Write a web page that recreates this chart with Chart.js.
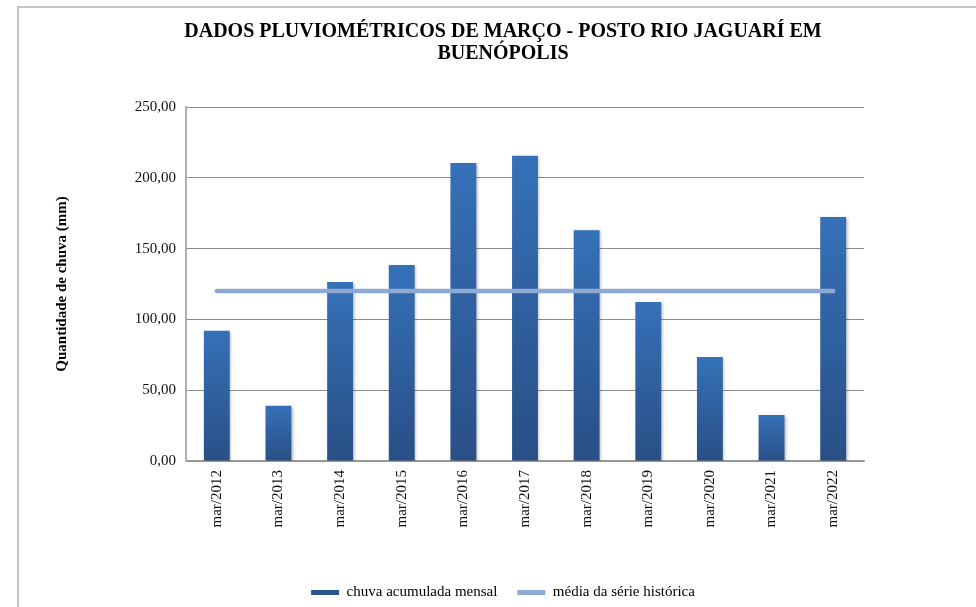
<!DOCTYPE html>
<html>
<head>
<meta charset="utf-8">
<script src="https://cdn.jsdelivr.net/npm/chart.js@4.4.0/dist/chart.umd.min.js"></script>
<style>
  html, body { margin: 0; padding: 0; background: #fff; overflow: hidden; }
  #wrap { position: relative; width: 976px; height: 607px; }
  #frame { position: absolute; left: 17px; top: 6px; width: 990px; height: 640px; border-left: 2px solid #c4c4c4; border-top: 2px solid #c4c4c4; pointer-events: none; }
</style>
</head>
<body>
<div id="wrap">
  <canvas id="my-chart" width="976" height="607"></canvas>
  <div id="frame"></div>
</div>
<script>
'use strict'

// data (mm)
let categories = ['mar/2012', 'mar/2013', 'mar/2014', 'mar/2015', 'mar/2016', 'mar/2017',
  'mar/2018', 'mar/2019', 'mar/2020', 'mar/2021', 'mar/2022'];
let chuvaMensal = [92, 39, 126.5, 138.5, 210.5, 215.5, 163, 112.3, 73.5, 32.5, 172.3];
let mediaSerie = [120, 120, 120, 120, 120, 120, 120, 120, 120, 120, 120];
let yTicks = [0, 50, 100, 150, 200, 250];

let chartTitle = ['DADOS PLUVIOMÉTRICOS DE MARÇO - POSTO RIO JAGUARÍ EM', 'BUENÓPOLIS'];
let yTitle = 'Quantidade de chuva (mm)';
let barLabel = 'chuva acumulada mensal';
let lineLabel = 'média da série histórica';

let barTop = '#3571b8';
let barBottom = '#294f86';
let barLegend = '#2c5690';
let lineColor = '#8eaad3';

Chart.defaults.font.family = "'Liberation Serif', 'Times New Roman', serif";
Chart.defaults.color = '#111';

let chartContext = document.getElementById('my-chart').getContext('2d');

function barGradient(context) {
  let chart = context.chart;
  if (!chart.chartArea || context.raw === undefined) {
    return barLegend;
  }
  let yScale = chart.scales.y;
  let top = yScale.getPixelForValue(context.raw);
  let bottom = yScale.getPixelForValue(0);
  let g = chart.ctx.createLinearGradient(0, top, 0, bottom);
  g.addColorStop(0, barTop);
  g.addColorStop(1, barBottom);
  return g;
}

// soft shadow behind the bars, like the spreadsheet one
let barShadow = {
  id: 'barShadow',
  beforeDatasetDraw(chart, args) {
    if (args.meta.type !== 'bar') return;
    let ctx = chart.ctx;
    ctx.save();
    ctx.shadowColor = 'rgba(0, 0, 0, 0.28)';
    ctx.shadowBlur = 3;
    ctx.shadowOffsetX = 1.5;
    ctx.shadowOffsetY = 1;
  },
  afterDatasetDraw(chart, args) {
    if (args.meta.type !== 'bar') return;
    chart.ctx.restore();
  }
};

let chartConfig = {
  type: 'bar',
  data: {
    labels: categories,
    datasets: [{
      type: 'bar',
      label: barLabel,
      data: chuvaMensal,
      backgroundColor: barGradient,
      barPercentage: 0.42,
      categoryPercentage: 1,
      order: 1,
    }, {
      type: 'line',
      label: lineLabel,
      data: mediaSerie,
      borderColor: lineColor,
      borderWidth: 4.5,
      borderCapStyle: 'round',
      pointRadius: 0,
      pointHoverRadius: 0,
      fill: false,
      order: 0,
    }],
  },
  options: {
    responsive: false,
    animation: false,
    layout: { padding: { left: 30, right: 0, top: 0, bottom: -3 } },
    plugins: {
      tooltip: { enabled: false },
      title: {
        display: true,
        text: chartTitle,
        color: '#000',
        font: { size: 20, weight: 'bold', lineHeight: 1.1 },
        padding: { top: 21, bottom: 42 },
      },
      legend: {
        position: 'bottom',
        labels: {
          boxWidth: 28,
          boxHeight: 5,
          padding: 20,
          color: '#111',
          font: { size: 15 },
          generateLabels: function (chart) {
            return [{
              text: barLabel, fillStyle: barLegend, strokeStyle: barLegend, lineWidth: 0, hidden: false, datasetIndex: 0,
            }, {
              text: lineLabel, fillStyle: lineColor, strokeStyle: lineColor, lineWidth: 0, hidden: false, datasetIndex: 1,
            }];
          },
        },
      },
    },
    scales: {
      x: {
        offset: true,
        grid: { display: false, drawTicks: false },
        border: { display: true, color: '#9a9a9a', width: 1.5 },
        ticks: { minRotation: 90, maxRotation: 90, autoSkip: false, padding: 9, font: { size: 15 } },
        afterFit: function (scale) { scale.height = 104; },
      },
      y: {
        min: yTicks[0],
        max: yTicks[yTicks.length - 1],
        ticks: {
          stepSize: yTicks[1] - yTicks[0],
          padding: 10,
          font: { size: 15 },
          callback: function (v) { return v.toFixed(2).replace('.', ','); },
        },
        grid: { color: '#8c8c8c', lineWidth: 1, drawTicks: false },
        border: { color: '#b0b0b0', width: 2 },
        title: {
          display: true,
          text: yTitle,
          color: '#000',
          font: { size: 15, weight: 'bold' },
          padding: { top: 23, bottom: 0 },
        },
        afterFit: function (scale) { scale.width = 156; },
      },
      yRight: {
        position: 'right',
        display: true,
        grid: { display: false, drawTicks: false },
        border: { display: false },
        ticks: { display: false },
        afterFit: function (scale) { scale.width = 112; },
      },
    },
  },
  plugins: [barShadow],
};

let myChart = new Chart(chartContext, chartConfig);
</script>
</body>
</html>
